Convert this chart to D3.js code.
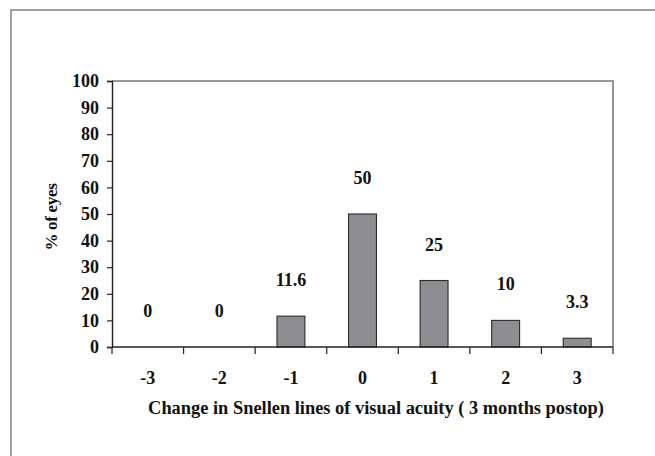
<!DOCTYPE html>
<html><head><meta charset="utf-8">
<script src="https://cdn.jsdelivr.net/npm/d3@7"></script>
<style>
html,body{margin:0;padding:0;background:#fff;}
svg{display:block;}
text{font-family:"Liberation Serif","Times New Roman",serif;font-weight:bold;fill:#111;}
</style></head>
<body>
<script>
const categories = ["-3","-2","-1","0","1","2","3"];
const values = [0, 0, 11.6, 50, 25, 10, 3.3];
const valueLabels = ["0","0","11.6","50","25","10","3.3"];
const yTicks = [0,10,20,30,40,50,60,70,80,90,100];
const yTitle = "% of eyes";
const xTitle = "Change in Snellen lines of visual acuity ( 3 months postop)";

(function () {
const W = 655, H = 456;
const svg = d3.select("body").append("svg").attr("width", W).attr("height", H);

// outer frame (left and top edges visible)
svg.append("rect").attr("x", 11).attr("y", 10).attr("width", 700).attr("height", 500)
  .attr("fill", "none").attr("stroke", "#8a8a8a").attr("stroke-width", 1.6);

const pLeft = 112, pRight = 613, pTop = 81, pBottom = 347;
const x = d3.scaleBand().domain(categories).range([pLeft, pRight]).paddingInner(0.61).paddingOuter(0.305);
const y = d3.scaleLinear().domain([0, 100]).range([pBottom, pTop]);
const step = x.step();

// plot border top and right
svg.append("path")
  .attr("d", `M${pLeft},${y(100)}H${pRight}V${y(0)}`)
  .attr("fill", "none").attr("stroke", "#7a7a7a").attr("stroke-width", 1.6);

// y axis
const yAxis = svg.append("g").attr("transform", `translate(${pLeft},0)`)
  .call(d3.axisLeft(y).tickValues(yTicks).tickSize(5).tickPadding(8).tickFormat(d3.format("d")));
yAxis.attr("font-family", null).attr("font-size", null);
yAxis.select(".domain").attr("stroke", "#222").attr("stroke-width", 1.4);
yAxis.selectAll(".tick line").attr("stroke", "#222").attr("stroke-width", 1.2);
yAxis.selectAll(".tick text").attr("font-size", 18).attr("fill", "#111");

// bars
svg.append("g").selectAll("rect").data(values).join("rect")
  .attr("x", (d, i) => x(categories[i]))
  .attr("y", d => y(d))
  .attr("width", x.bandwidth())
  .attr("height", d => y(0) - y(d))
  .attr("fill", "#8e8e92").attr("stroke", "#2a2a2a").attr("stroke-width", 1.1);

// value labels
svg.append("g").selectAll("text").data(values).join("text")
  .attr("x", (d, i) => x(categories[i]) + x.bandwidth() / 2)
  .attr("y", d => y(d) - 36)
  .attr("text-anchor", "middle").attr("dominant-baseline", "central")
  .attr("font-size", 18)
  .text((d, i) => valueLabels[i]);

// x axis
const xAxis = svg.append("g");
xAxis.append("line").attr("x1", pLeft).attr("x2", pRight).attr("y1", y(0)).attr("y2", y(0))
  .attr("stroke", "#222").attr("stroke-width", 1.4);
const boundaries = categories.map(c => x(c) + x.bandwidth() / 2 - step / 2)
  .concat([x(categories[categories.length - 1]) + x.bandwidth() / 2 + step / 2]);
xAxis.selectAll("line.tick").data(boundaries).join("line").attr("class", "tick")
  .attr("x1", d => d).attr("x2", d => d).attr("y1", y(0)).attr("y2", y(0) + 7)
  .attr("stroke", "#222").attr("stroke-width", 1.2);
xAxis.selectAll("text").data(categories).join("text")
  .attr("x", c => x(c) + x.bandwidth() / 2)
  .attr("y", 378)
  .attr("text-anchor", "middle").attr("dominant-baseline", "central")
  .attr("font-size", 18)
  .text(c => c);

// axis titles
svg.append("text").attr("x", 376).attr("y", 408)
  .attr("text-anchor", "middle").attr("dominant-baseline", "central")
  .attr("font-size", 18.4).text(xTitle);
svg.append("text").attr("transform", "translate(51,217) rotate(-90)")
  .attr("text-anchor", "middle").attr("dominant-baseline", "central")
  .attr("font-size", 17).attr("letter-spacing", -0.3).text(yTitle);
})();
</script>
</body></html>
